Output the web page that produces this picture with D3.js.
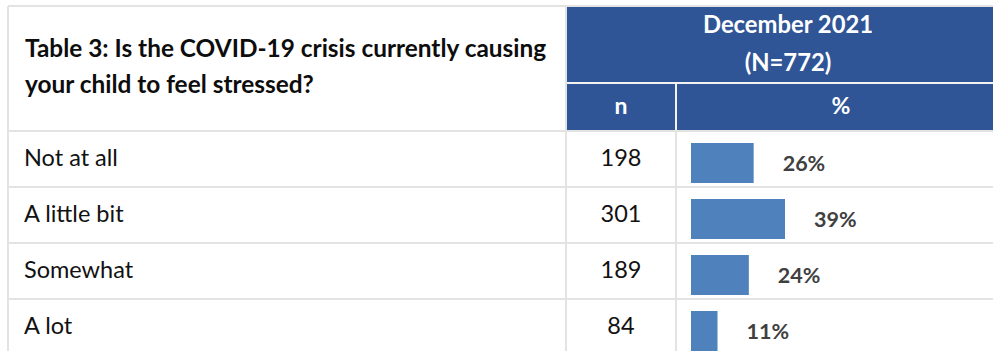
<!DOCTYPE html>
<html>
<head>
<meta charset="utf-8">
<script src="https://cdn.jsdelivr.net/npm/d3@7"></script>
<style>
  body { margin: 0; background: #fff; }
  svg { display: block; }
</style>
</head>
<body>
<div id="chart"></div>
<script>
// table data
const categories = ["Not at all", "A little bit", "Somewhat", "A lot"];
const counts = [198, 301, 189, 84];
const percents = [26, 39, 24, 11];
const titleLines = ["Table 3: Is the COVID-19 crisis currently causing", "your child to feel stressed?"];
const headerLines = ["December 2021", "(N=772)"];
const subHeaders = ["n", "%"];

const width = 993, height = 351;
const gridColor = "#e3e3e3", headBlue = "#2f5597", barBlue = "#4f81bd";

// column edges
const colLeft = 8, colN = 566, colPct = 676, colRight = 1006;
const headTop = 6, headMid = 83, headBottom = 131, rowH = 56;

const svg = d3.select("#chart")
  .append("svg")
    .attr("width", width)
    .attr("height", height)
    .style("font-family", "Lato, 'Open Sans', sans-serif");

const rows = categories.map((c, i) => ({ name: c, n: counts[i], pct: percents[i] }));

// scales
const y = d3.scaleBand()
  .domain(categories)
  .range([headBottom, headBottom + rowH * categories.length]);

const x = d3.scaleLinear()
  .domain([0, 100])
  .range([691, 691 + 241]);

// blue header block
svg.append("rect")
  .attr("x", colN + 1)
  .attr("y", headTop + 1)
  .attr("width", colRight - colN - 1)
  .attr("height", headBottom - headTop - 1)
  .attr("fill", headBlue);

// white separators inside header
svg.append("line")
  .attr("x1", colN + 1).attr("x2", colRight)
  .attr("y1", headMid).attr("y2", headMid)
  .attr("stroke", "#f2f2f2").attr("stroke-width", 2);
svg.append("line")
  .attr("x1", colPct).attr("x2", colPct)
  .attr("y1", headMid).attr("y2", headBottom)
  .attr("stroke", "#f2f2f2").attr("stroke-width", 2);

// grid lines
const hLines = [headTop].concat(categories.map(c => y(c)));
svg.selectAll("hline")
  .data(hLines)
  .enter()
  .append("line")
    .attr("x1", colLeft).attr("x2", width)
    .attr("y1", d => d).attr("y2", d => d)
    .attr("stroke", gridColor)
    .attr("stroke-width", 2);

svg.append("line")
  .attr("x1", colLeft).attr("x2", colLeft)
  .attr("y1", headTop).attr("y2", height)
  .attr("stroke", gridColor).attr("stroke-width", 2);
svg.append("line")
  .attr("x1", colN).attr("x2", colN)
  .attr("y1", headTop).attr("y2", height)
  .attr("stroke", gridColor).attr("stroke-width", 2);
svg.append("line")
  .attr("x1", colPct).attr("x2", colPct)
  .attr("y1", headBottom).attr("y2", height)
  .attr("stroke", gridColor).attr("stroke-width", 2);

// title
svg.selectAll("titleLine")
  .data(titleLines)
  .enter()
  .append("text")
    .attr("x", 25)
    .attr("y", (d, i) => 57 + i * 36)
    .text(d => d)
    .style("font-weight", "bold")
    .style("font-size", "24.4px")
    .style("fill", "#0d0d0d");

// header texts
svg.selectAll("headLine")
  .data(headerLines)
  .enter()
  .append("text")
    .attr("x", 788)
    .attr("y", (d, i) => 33 + i * 38)
    .attr("text-anchor", "middle")
    .text(d => d)
    .style("font-weight", "bold")
    .style("font-size", "23.8px")
    .style("fill", "#fff");

svg.selectAll("subHead")
  .data(subHeaders)
  .enter()
  .append("text")
    .attr("x", (d, i) => i === 0 ? (colN + colPct) / 2 : (colPct + colRight) / 2)
    .attr("y", 114)
    .attr("text-anchor", "middle")
    .text(d => d)
    .style("font-weight", "bold")
    .style("font-size", "23px")
    .style("fill", "#fff");

// row labels
svg.selectAll("rowLabel")
  .data(rows)
  .enter()
  .append("text")
    .attr("x", 24)
    .attr("y", d => y(d.name) + 35)
    .text(d => d.name)
    .style("font-size", "23.5px")
    .style("fill", "#111");

// counts
svg.selectAll("countLabel")
  .data(rows)
  .enter()
  .append("text")
    .attr("x", (colN + colPct) / 2)
    .attr("y", d => y(d.name) + 35)
    .attr("text-anchor", "middle")
    .text(d => d.n)
    .style("font-size", "23.5px")
    .style("fill", "#111");

// bars
svg.selectAll("bar")
  .data(rows)
  .enter()
  .append("rect")
    .attr("x", x(0))
    .attr("y", d => y(d.name) + 12)
    .attr("width", d => x(d.pct) - x(0))
    .attr("height", 40)
    .attr("fill", barBlue);

// percent labels
svg.selectAll("pctLabel")
  .data(rows)
  .enter()
  .append("text")
    .attr("x", d => x(d.pct) + 29)
    .attr("y", d => y(d.name) + 40)
    .text(d => d.pct + "%")
    .style("font-weight", "bold")
    .style("font-size", "21.5px")
    .style("fill", "#404040");
</script>
</body>
</html>
